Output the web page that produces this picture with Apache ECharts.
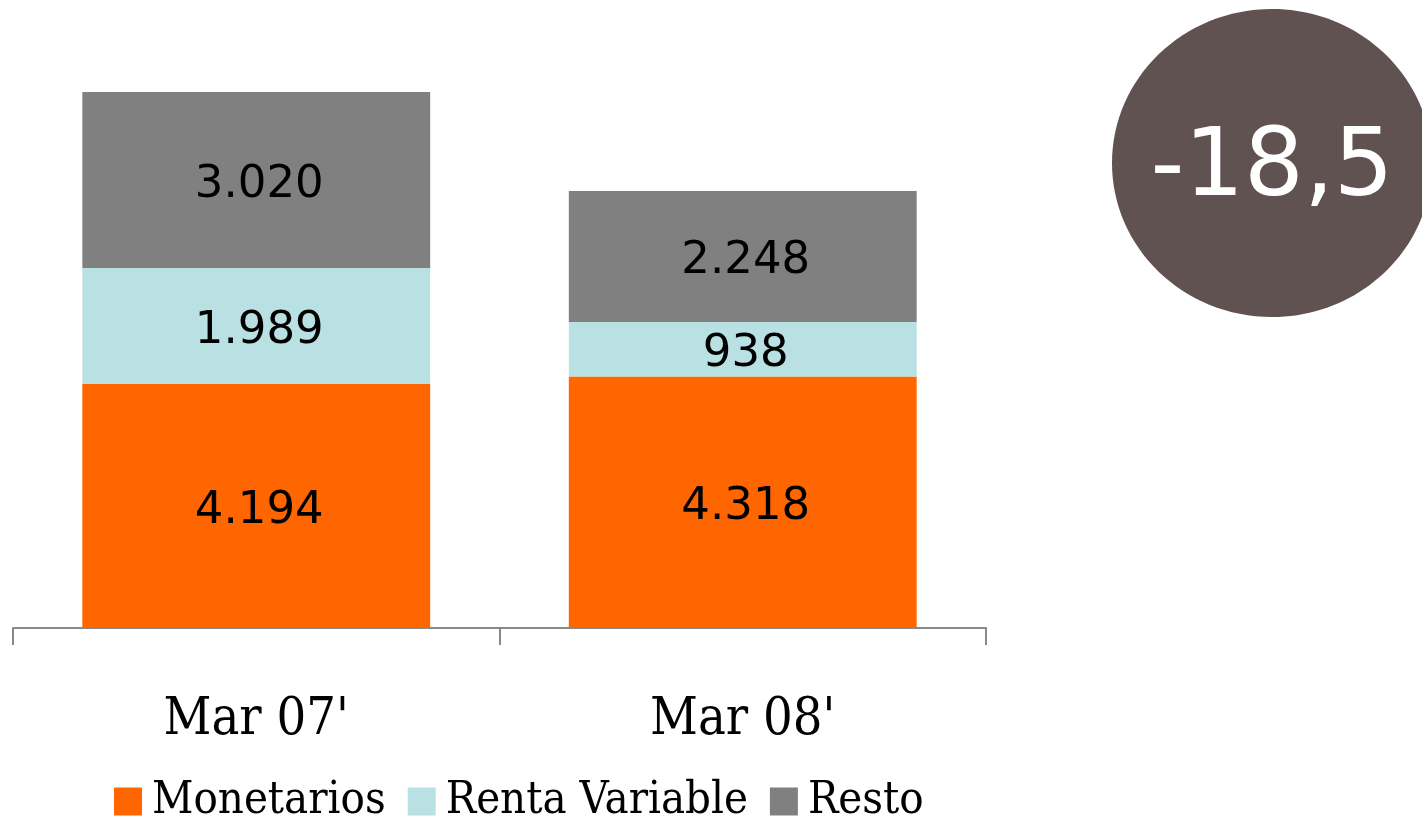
<!DOCTYPE html>
<html>
<head>
<meta charset="utf-8">
<script src="https://cdn.jsdelivr.net/npm/echarts@6/dist/echarts.min.js"></script>
<style>
  html, body { margin: 0; padding: 0; background: #ffffff; }
  #chart { width: 1422px; height: 819px; }
</style>
</head>
<body>
<div id="chart"></div>
<script>
// Patrimonio por tipo de fondo (stacked)
const categories = ["Mar 07'", "Mar 08'"];
const monetarios = [4194, 4318];
const rentaVariable = [1989, 938];
const resto = [3020, 2248];
const seriesNames = ['Monetarios', 'Renta Variable', 'Resto'];
const variation = '-18,5';

const colors = ['#FF6600', '#B9E0E2', '#808080'];
const numFont = 'DejaVu Sans';
const serifFont = 'DejaVu Serif Condensed, DejaVu Serif';

// Spanish thousands separator
const fmt = v => String(v).replace(/\B(?=(\d{3})+(?!\d))/g, '.');

function barSeries(name, data, color) {
  return {
    name: name,
    type: 'bar',
    stack: 'total',
    data: data,
    barWidth: '71.5%',
    itemStyle: { color: color },
    label: {
      show: true,
      position: 'inside',
      offset: [3, 5],
      formatter: p => fmt(p.value),
      color: '#000000',
      fontFamily: numFont,
      fontSize: 45,
      letterSpacing: 5
    },
    emphasis: { disabled: true }
  };
}

const chart = echarts.init(document.getElementById('chart'), null, { renderer: 'canvas' });
chart.setOption({
  animation: false,
  backgroundColor: '#ffffff',
  grid: { left: 13, right: 436, top: 45.6, bottom: 191, containLabel: false },
  legend: {
    data: seriesNames,
    left: 114,
    top: 779,
    padding: 0,
    icon: 'rect',
    itemWidth: 28,
    itemHeight: 28,
    itemGap: 22,
    textStyle: { fontFamily: serifFont, fontSize: 45, color: '#000000', padding: [0, 0, 0, 5] }
  },
  xAxis: {
    type: 'category',
    data: categories,
    boundaryGap: true,
    axisLine: { show: true, lineStyle: { color: '#888888', width: 2 } },
    axisTick: { show: true, length: 17, lineStyle: { color: '#888888', width: 2 } },
    axisLabel: { fontFamily: serifFont, fontSize: 52, color: '#000000', margin: 66 }
  },
  yAxis: {
    type: 'value',
    min: 0,
    max: 10000,
    show: false,
    splitLine: { show: false }
  },
  series: [
    barSeries(seriesNames[0], monetarios, colors[0]),
    barSeries(seriesNames[1], rentaVariable, colors[1]),
    barSeries(seriesNames[2], resto, colors[2])
  ],
  graphic: [
    {
      type: 'ellipse',
      shape: { cx: 1272, cy: 163, rx: 160, ry: 154 },
      style: { fill: '#605250' },
      z: 10
    },
    {
      type: 'text',
      x: 1272,
      y: 171,
      style: {
        text: variation,
        fill: '#ffffff',
        font: '94px "DejaVu Sans"',
        align: 'center',
        verticalAlign: 'middle'
      },
      z: 11
    }
  ]
});
</script>
</body>
</html>
